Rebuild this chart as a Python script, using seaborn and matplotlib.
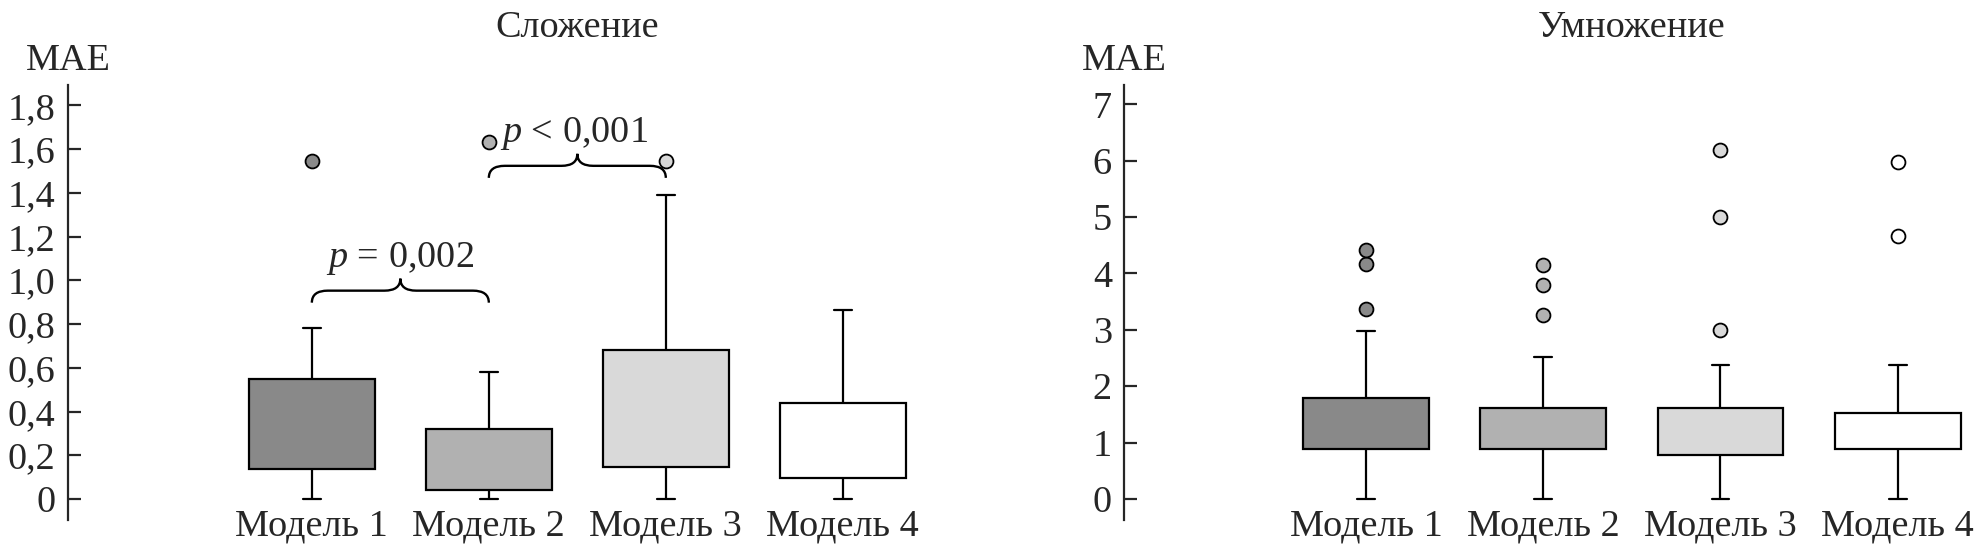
import numpy as np
import pandas as pd
import matplotlib.pyplot as plt
import seaborn as sns
from matplotlib.path import Path
from matplotlib.patches import PathPatch

models = ["Модель 1", "Модель 2", "Модель 3", "Модель 4"]
colors = ["#898989", "#b1b1b1", "#d9d9d9", "#ffffff"]

# Сложение: сводка ящиков
add_low = [0.0, 0.0, 0.0, 0.0]
add_q1 = [0.135, 0.040, 0.147, 0.098]
add_q3 = [0.547, 0.322, 0.683, 0.441]
add_high = [0.784, 0.580, 1.389, 0.866]
add_out = [[1.544], [1.634], [1.544], []]
add_ticks = [0, 0.2, 0.4, 0.6, 0.8, 1.0, 1.2, 1.4, 1.6, 1.8]
add_ticklabels = ["0", "0,2", "0,4", "0,6", "0,8", "1,0", "1,2", "1,4", "1,6", "1,8"]

# Умножение
mul_low = [0.0, 0.0, 0.0, 0.0]
mul_q1 = [0.887, 0.887, 0.779, 0.887]
mul_q3 = [1.793, 1.609, 1.609, 1.533]
mul_high = [2.977, 2.521, 2.375, 2.375]
mul_out = [[3.376, 4.16, 4.415], [3.262, 3.80, 4.149], [3.0, 5.0, 6.19], [4.67, 5.97]]
mul_ticks = [0, 1, 2, 3, 4, 5, 6, 7]
mul_ticklabels = ["0", "1", "2", "3", "4", "5", "6", "7"]


def summary_table(low, q1, q3, high, out, rep=10):
    # таблица, на которой boxplot даёт ровно эти квартили и усы
    rows = []
    for m, lo, a, b, hi, o in zip(models, low, q1, q3, high, out):
        vals = [lo] + [a] * rep + [b] * rep + [hi] + list(o)
        rows += [(m, v) for v in vals]
    return pd.DataFrame(rows, columns=["model", "mae"])


def brace(ax, x0, x1, y, h, dx=0.09):
    xm = (x0 + x1) / 2
    verts = [(x0, y - h), (x0, y), (x0 + dx, y),
             (xm - dx, y), (xm, y), (xm, y + h),
             (xm, y), (xm + dx, y),
             (x1 - dx, y), (x1, y), (x1, y - h)]
    codes = [Path.MOVETO, Path.CURVE3, Path.CURVE3,
             Path.LINETO, Path.CURVE3, Path.CURVE3,
             Path.CURVE3, Path.CURVE3,
             Path.LINETO, Path.CURVE3, Path.CURVE3]
    ax.add_patch(PathPatch(Path(verts, codes), fill=False, lw=1.7, color="black"))


sns.set_style("ticks")
plt.rcParams["font.family"] = ["Liberation Serif", "DejaVu Serif"]
plt.rcParams["mathtext.fontset"] = "custom"
plt.rcParams["mathtext.rm"] = "Liberation Serif"
plt.rcParams["mathtext.it"] = "Liberation Serif:italic"

fs = 27.5
fig = plt.figure(figsize=(19.87, 5.6), dpi=100)
ax1 = fig.add_axes([0.0342, 0.0707, 0.4345, 0.778])
ax2 = fig.add_axes([0.5659, 0.0707, 0.4338, 0.778])

panels = [
    (ax1, summary_table(add_low, add_q1, add_q3, add_high, add_out), "Сложение",
     add_ticks, add_ticklabels, (-0.098, 1.895), -1.378),
    (ax2, summary_table(mul_low, mul_q1, mul_q3, mul_high, mul_out), "Умножение",
     mul_ticks, mul_ticklabels, (-0.38, 7.348), -1.362),
]

for ax, df, title, ticks, labels, ylim, xleft in panels:
    sns.boxplot(data=df, x="model", y="mae", hue="model", palette=colors,
                width=0.71, linewidth=1.6, linecolor="black", legend=False,
                medianprops={"visible": False},
                flierprops={"marker": "o", "markersize": 10,
                            "markeredgecolor": "black", "markeredgewidth": 1.3},
                ax=ax)
    # короткие засечки на усах, кружки выбросов в цвет ящика
    for c in ax.containers:
        for cap in c.caps:
            xd = cap.get_xdata()
            mid = np.mean(xd)
            cap.set_xdata([mid - 0.05, mid + 0.05])
    for ln in ax.lines:
        xd = ln.get_xdata()
        if ln.get_marker() == "o" and len(xd) > 0:
            ln.set_markerfacecolor(colors[int(round(xd[0]))])

    ax.set_xlim(xleft, 3.5)
    ax.set_ylim(*ylim)
    ax.set_yticks(ticks)
    ax.set_yticklabels(labels)
    ax.set_xlabel("")
    ax.set_ylabel("")
    for s in ["top", "right", "bottom"]:
        ax.spines[s].set_visible(False)
    ax.spines["left"].set_linewidth(1.6)
    ax.tick_params(axis="y", direction="in", length=9, width=1.6, pad=9, labelsize=fs)
    ax.tick_params(axis="x", length=0, pad=-8, labelsize=fs)
    ax.text(0, 1.033, "MAE", transform=ax.transAxes, ha="center", va="baseline", fontsize=fs)
    ax.text(1.5, 1.109, title, transform=ax.get_xaxis_transform(),
            ha="center", va="baseline", fontsize=fs)

# скобки с p-значениями
brace(ax1, 0, 1, 0.953, 0.055)
ax1.text(0.5, 1.062, "$p$ = 0,002", ha="center", va="baseline", fontsize=fs)
brace(ax1, 1, 2, 1.524, 0.055)
ax1.text(1.48, 1.633, "$p$ < 0,001", ha="center", va="baseline", fontsize=fs)

fig.savefig("out.png", dpi=100)
